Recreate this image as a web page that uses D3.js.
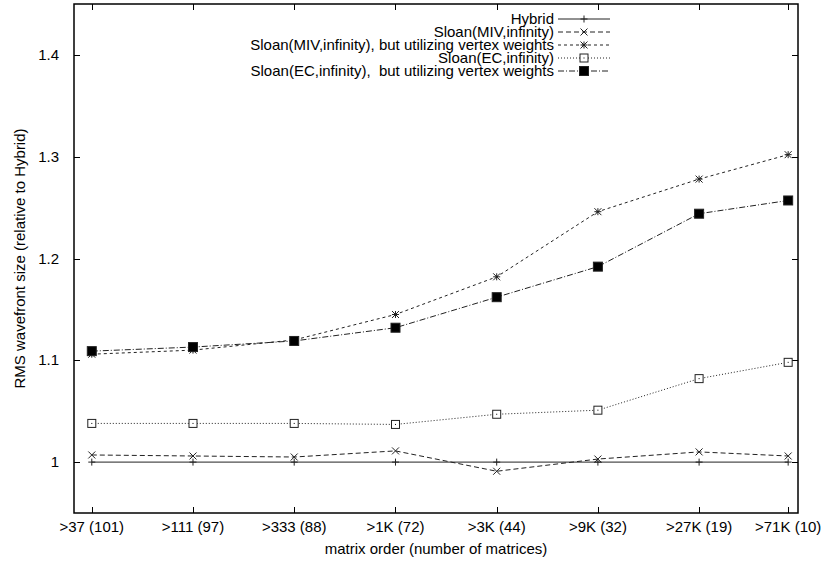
<!DOCTYPE html>
<html>
<head>
<meta charset="utf-8">
<script src="https://cdn.jsdelivr.net/npm/d3@7"></script>
<style>
  body { margin: 0; background: #fff; }
  text { font-family: "Liberation Sans", Arial, Helvetica, sans-serif; font-size: 15px; fill: #000; }
</style>
</head>
<body>
<div id="chart"></div>
<script>
// matrix order thresholds (x position, log scale) and tick labels
var matrixOrder = [37, 111, 333, 1000, 3000, 9000, 27000, 71000];
var tickLabels = [">37 (101)", ">111 (97)", ">333 (88)", ">1K (72)", ">3K (44)", ">9K (32)", ">27K (19)", ">71K (10)"];
var yTicks = [1, 1.1, 1.2, 1.3, 1.4];

var seriesNames = [
  "Hybrid",
  "Sloan(MIV,infinity)",
  "Sloan(MIV,infinity), but utilizing vertex weights",
  "Sloan(EC,infinity)",
  "Sloan(EC,infinity),  but utilizing vertex weights"
];
var hybrid   = [1, 1, 1, 1, 1, 1, 1, 1];
var sloanMIV = [1.007, 1.006, 1.005, 1.011, 0.991, 1.003, 1.010, 1.006];
var sloanMIVw = [1.106, 1.110, 1.120, 1.145, 1.182, 1.246, 1.278, 1.302];
var sloanEC  = [1.038, 1.038, 1.038, 1.037, 1.047, 1.051, 1.082, 1.098];
var sloanECw = [1.109, 1.113, 1.119, 1.132, 1.162, 1.192, 1.244, 1.257];

var allSeries = [hybrid, sloanMIV, sloanMIVw, sloanEC, sloanECw];
var dashes = ["none", "5,3", "3,3", "1,2", "6,2,1,2"];
var markers = ["plus", "cross", "star", "openSquare", "filledSquare"];

var width = 822, height = 565;
var margin = {left: 74, right: 24, top: 4, bottom: 52};

var svg = d3.select("#chart").append("svg")
  .attr("width", width)
  .attr("height", height);

var x = d3.scaleLog()
  .domain([30.5, 79000])
  .range([margin.left, width - margin.right]);

var y = d3.scaleLinear()
  .domain([0.95, 1.45])
  .range([height - margin.bottom, margin.top]);

var x0 = margin.left, x1 = width - margin.right;
var y0 = height - margin.bottom, y1 = margin.top;
var tickLen = 6;

// ticks (inward, mirrored like gnuplot)
var ticks = svg.append("g").attr("stroke", "#000").attr("stroke-width", 1);
matrixOrder.forEach(function(d) {
  var px = Math.round(x(d)) + 0.5;
  ticks.append("line").attr("x1", px).attr("x2", px).attr("y1", y0).attr("y2", y0 - tickLen);
  ticks.append("line").attr("x1", px).attr("x2", px).attr("y1", y1).attr("y2", y1 + tickLen);
});
yTicks.forEach(function(d) {
  var py = Math.round(y(d)) + 0.5;
  ticks.append("line").attr("x1", x0).attr("x2", x0 + tickLen).attr("y1", py).attr("y2", py);
  ticks.append("line").attr("x1", x1).attr("x2", x1 - tickLen).attr("y1", py).attr("y2", py);
});

// tick labels
svg.append("g").selectAll("text")
  .data(matrixOrder)
  .enter().append("text")
  .attr("x", function(d) { return x(d); })
  .attr("y", y0 + 19)
  .attr("text-anchor", "middle")
  .text(function(d, i) { return tickLabels[i]; });

svg.append("g").selectAll("text")
  .data(yTicks)
  .enter().append("text")
  .attr("x", x0 - 15)
  .attr("y", function(d) { return y(d) + 5; })
  .attr("text-anchor", "end")
  .text(function(d) { return d; });

// axis titles
svg.append("text")
  .attr("x", (x0 + x1) / 2)
  .attr("y", y0 + 41)
  .attr("text-anchor", "middle")
  .text("matrix order (number of matrices)");

svg.append("text")
  .attr("transform", "translate(25," + ((y0 + y1) / 2) + ") rotate(-90)")
  .attr("text-anchor", "middle")
  .text("RMS wavefront size (relative to Hybrid)");

// marker drawing
function drawMarker(g, type, cx, cy) {
  var s = 3.5;
  if (type == "plus" || type == "star") {
    g.append("line").attr("x1", cx - s).attr("x2", cx + s).attr("y1", cy).attr("y2", cy);
    g.append("line").attr("x1", cx).attr("x2", cx).attr("y1", cy - s).attr("y2", cy + s);
  }
  if (type == "cross" || type == "star") {
    g.append("line").attr("x1", cx - s).attr("x2", cx + s).attr("y1", cy - s).attr("y2", cy + s);
    g.append("line").attr("x1", cx - s).attr("x2", cx + s).attr("y1", cy + s).attr("y2", cy - s);
  }
  if (type == "openSquare") {
    g.append("rect").attr("x", cx - 4).attr("y", cy - 4).attr("width", 8).attr("height", 8)
      .attr("fill", "#fff");
    g.append("rect").attr("x", cx - 0.5).attr("y", cy - 0.5).attr("width", 1).attr("height", 1)
      .attr("fill", "#000").attr("stroke", "none");
  }
  if (type == "filledSquare") {
    g.append("rect").attr("x", cx - 4.5).attr("y", cy - 4.5).attr("width", 9).attr("height", 9)
      .attr("fill", "#000");
  }
}

var line = d3.line()
  .x(function(d, i) { return x(matrixOrder[i]); })
  .y(function(d) { return y(d); });

allSeries.forEach(function(vals, k) {
  var g = svg.append("g").attr("stroke", "#222").attr("stroke-width", 1).attr("fill", "none");
  g.append("path")
    .attr("d", line(vals))
    .attr("stroke-dasharray", dashes[k]);
  vals.forEach(function(v, i) {
    drawMarker(g, markers[k], x(matrixOrder[i]), y(v));
  });
});

// legend
var legendRight = 554, legendTop = 19, legendStep = 13;
seriesNames.forEach(function(name, k) {
  var ly = legendTop + k * legendStep;
  svg.append("text")
    .attr("x", legendRight)
    .attr("y", ly + 5)
    .attr("text-anchor", "end")
    .style("white-space", "pre")
    .text(name);
  var g = svg.append("g").attr("stroke", "#222").attr("stroke-width", 1).attr("fill", "none");
  g.append("line")
    .attr("x1", legendRight + 4).attr("x2", legendRight + 56)
    .attr("y1", ly).attr("y2", ly)
    .attr("stroke-dasharray", dashes[k]);
  drawMarker(g, markers[k], legendRight + 30, ly);
});

// border
svg.append("rect")
  .attr("x", x0).attr("y", y1)
  .attr("width", x1 - x0).attr("height", y0 - y1)
  .attr("fill", "none")
  .attr("stroke", "#000")
  .attr("stroke-width", 1.5);
</script>
</body>
</html>
